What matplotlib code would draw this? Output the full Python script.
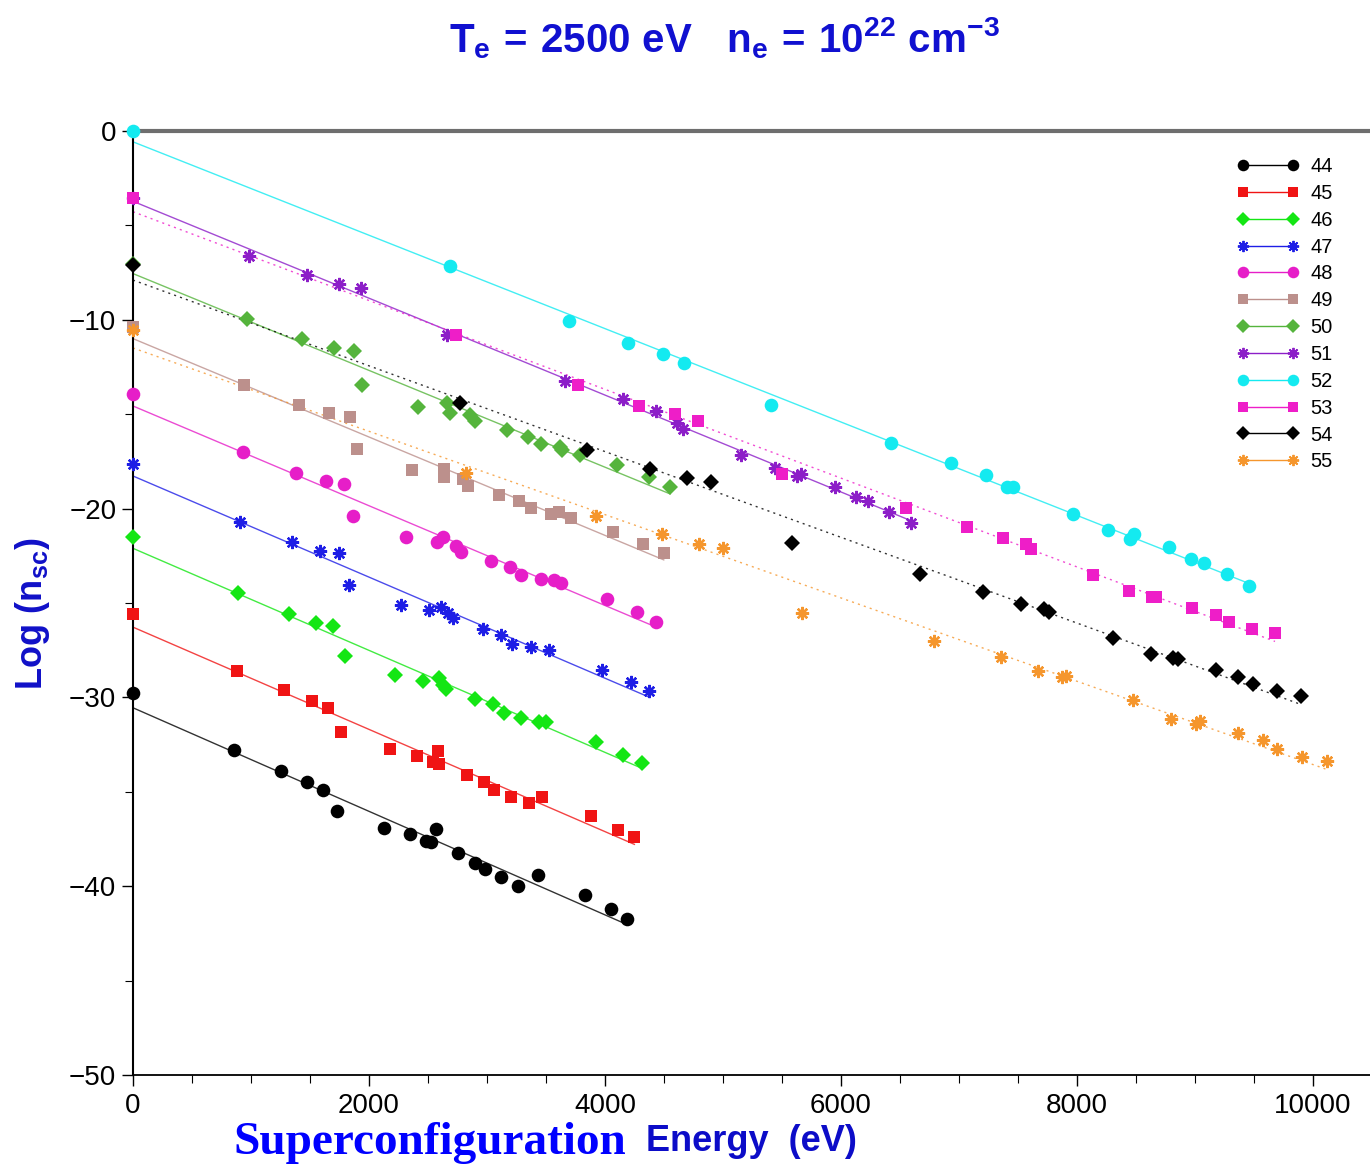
import numpy as np
import matplotlib
matplotlib.use("Agg")
import matplotlib.pyplot as plt
from matplotlib.lines import Line2D
from matplotlib.ticker import MultipleLocator

plt.rcParams['font.family'] = ['Liberation Sans', 'DejaVu Sans']
plt.rcParams['mathtext.fontset'] = 'custom'
plt.rcParams['mathtext.rm'] = 'Liberation Sans:bold'
plt.rcParams['mathtext.it'] = 'Liberation Sans:bold'
plt.rcParams['mathtext.bf'] = 'Liberation Sans:bold'
plt.rcParams['mathtext.sf'] = 'Liberation Sans:bold'

# ---------------- data (superconfiguration energy in eV, Log n_sc) ----------------
labels = ['44', '45', '46', '47', '48', '49', '50', '51', '52', '53', '54', '55']

x44 = [0, 856, 1254, 1475, 1610, 1729, 2127, 2347, 2483, 2525, 2568, 2754, 2898, 2983, 3119, 3263, 3432, 3831, 4051, 4186]
y44 = [-29.78, -32.79, -33.88, -34.50, -34.92, -36.00, -36.93, -37.24, -37.61, -37.64, -36.99, -38.26, -38.76, -39.09, -39.53, -39.97, -39.42, -40.47, -41.22, -41.72]

x45 = [0, 881, 1283, 1513, 1653, 1760, 2178, 2407, 2583, 2545, 2593, 2828, 2972, 3057, 3203, 3352, 3465, 3879, 4108, 4249]
y45 = [-25.60, -28.59, -29.61, -30.19, -30.56, -31.82, -32.75, -33.09, -32.82, -33.41, -33.53, -34.11, -34.50, -34.90, -35.26, -35.61, -35.26, -36.28, -37.04, -37.41]

x46 = [0, 890, 1322, 1551, 1698, 1797, 2220, 2460, 2593, 2624, 2655, 2897, 3047, 3142, 3286, 3440, 3503, 3927, 4155, 4313]
y46 = [-21.49, -24.49, -25.58, -26.04, -26.20, -27.81, -28.81, -29.13, -28.99, -29.34, -29.57, -30.10, -30.37, -30.84, -31.07, -31.29, -31.29, -32.35, -33.07, -33.46]

x47 = [0, 910, 1344, 1586, 1746, 1831, 2270, 2512, 2606, 2669, 2716, 2962, 3115, 3212, 3370, 3528, 3974, 4218, 4376]
y47 = [-17.65, -20.69, -21.77, -22.25, -22.37, -24.05, -25.11, -25.37, -25.20, -25.55, -25.81, -26.39, -26.69, -27.17, -27.31, -27.49, -28.55, -29.20, -29.64]

x48 = [0, 935, 1382, 1636, 1792, 1864, 2316, 2576, 2624, 2740, 2781, 3038, 3199, 3292, 3455, 3565, 3628, 4020, 4271, 4435]
y48 = [-13.95, -17.02, -18.10, -18.52, -18.70, -20.39, -21.49, -21.75, -21.52, -21.96, -22.28, -22.76, -23.09, -23.50, -23.74, -23.78, -23.96, -24.80, -25.46, -25.99]

x49 = [0, 941, 1406, 1664, 1839, 1902, 2366, 2633, 2633, 2797, 2838, 3104, 3274, 3370, 3543, 3613, 3713, 4068, 4325, 4498]
y49 = [-10.37, -13.45, -14.51, -14.95, -15.15, -16.86, -17.96, -17.92, -18.34, -18.45, -18.79, -19.28, -19.60, -19.98, -20.29, -20.16, -20.48, -21.22, -21.88, -22.37]

x50 = [0, 964, 1435, 1706, 1875, 1938, 2418, 2658, 2686, 2856, 2898, 3167, 3345, 3455, 3619, 3633, 3788, 4104, 4375, 4551]
y50 = [-7.06, -9.97, -11.03, -11.48, -11.64, -13.47, -14.60, -14.39, -14.92, -15.04, -15.34, -15.85, -16.19, -16.60, -16.75, -16.90, -17.16, -17.69, -18.31, -18.87]

x51 = [0, 983, 1472, 1746, 1929, 2663, 3661, 4150, 4432, 4613, 4658, 5153, 5441, 5630, 5659, 5949, 6125, 6229, 6409, 6593]
y51 = [-3.55, -6.60, -7.63, -8.10, -8.30, -10.81, -13.23, -14.21, -14.83, -15.45, -15.78, -17.16, -17.87, -18.27, -18.19, -18.84, -19.39, -19.58, -20.18, -20.75]

x52 = [0, 2686, 3697, 4197, 4494, 4669, 5404, 6424, 6935, 7229, 7409, 7460, 7966, 8265, 8449, 8487, 8782, 8966, 9078, 9269, 9455]
y52 = [0.0, -7.15, -10.06, -11.24, -11.81, -12.27, -14.51, -16.54, -17.58, -18.24, -18.86, -18.86, -20.28, -21.13, -21.61, -21.37, -22.02, -22.69, -22.87, -23.47, -24.08]

x53 = [0, 2737, 3774, 4291, 4593, 4785, 5497, 6551, 7065, 7370, 7565, 7606, 8133, 8439, 8633, 8669, 8975, 9174, 9286, 9483, 9678]
y53 = [-3.55, -10.81, -13.45, -14.55, -14.99, -15.34, -18.19, -19.96, -20.97, -21.56, -21.88, -22.16, -23.53, -24.36, -24.67, -24.66, -25.24, -25.62, -25.99, -26.36, -26.61]

x54 = [0, 2771, 3850, 4381, 4697, 4895, 5587, 6669, 7206, 7524, 7718, 7761, 8305, 8624, 8816, 8853, 9175, 9367, 9494, 9692, 9898]
y54 = [-7.10, -14.42, -16.90, -17.92, -18.40, -18.61, -21.84, -23.44, -24.44, -25.04, -25.33, -25.50, -26.83, -27.70, -27.93, -27.98, -28.55, -28.94, -29.31, -29.66, -29.91]

x55 = [0, 2826, 3924, 4481, 4799, 4997, 5672, 6788, 7352, 7669, 7875, 7907, 8475, 8797, 9008, 9042, 9362, 9574, 9692, 9904, 10116]
y55 = [-10.54, -18.09, -20.39, -21.35, -21.89, -22.10, -25.52, -26.99, -27.84, -28.59, -28.94, -28.88, -30.14, -31.16, -31.42, -31.25, -31.90, -32.26, -32.75, -33.14, -33.35]

xs = [x44, x45, x46, x47, x48, x49, x50, x51, x52, x53, x54, x55]
ys = [y44, y45, y46, y47, y48, y49, y50, y51, y52, y53, y54, y55]

# ---------------- styles ----------------
colors = ['#000000', '#f01414', '#14e614', '#1e1ee6', '#e61ec8', '#bc908c',
          '#55b43c', '#8c1ec8', '#14eaf0', '#ee1ec8', '#000000', '#f5962d']
markers = ['o', 's', 'D', (8, 2, 0), 'o', 's', 'D', (8, 2, 0), 'o', 's', 'D', (8, 2, 0)]
msizes = {'o': 9.8, 's': 8.8, 'D': 7.8}
fit_styles = ['-'] * 9 + [(0, (1.5, 3))] * 3

fig = plt.figure(figsize=(13.70, 11.64), dpi=100)
ax = fig.add_axes([133 / 1370, 1 - 1075 / 1164, 1 - 133 / 1370, (1075 - 131) / 1164])

handles = []
for x, y, c, m, ls, lab in zip(xs, ys, colors, markers, fit_styles, labels):
    x = np.asarray(x, float)
    y = np.asarray(y, float)
    k, b = np.polyfit(x, y, 1)
    xf = np.array([0.0, x.max()])
    ax.plot(xf, k * xf + b, ls=ls, color=c, lw=1.0, alpha=0.8, zorder=2)
    ms = msizes.get(m, 9.5) if isinstance(m, str) else 9.5
    mew = 1.7 if not isinstance(m, str) else 0
    ax.plot(x, y, ls='none', marker=m, ms=ms, color=c, mec=c, mew=mew,
            zorder=3, clip_on=False)
    handles.append(Line2D([], [], color=c, lw=1.0, alpha=1, marker=m, ms=ms * 0.85,
                          mec=c, mew=mew * 0.8, label=lab))

ax.set_xlim(0, 10483)
ax.set_ylim(-50, 0)
ax.xaxis.set_major_locator(MultipleLocator(2000))
ax.xaxis.set_minor_locator(MultipleLocator(500))
ax.yaxis.set_major_locator(MultipleLocator(10))
ax.yaxis.set_minor_locator(MultipleLocator(5))
ax.tick_params(axis='both', which='major', direction='out', length=8, width=1,
               labelsize=20, colors='black', pad=5)
ax.tick_params(axis='both', which='minor', direction='out', length=6, width=0.8)
ax.tick_params(axis='y', which='major', pad=4)

ax.spines['right'].set_visible(False)
ax.spines['top'].set_color('#6e6e6e')
ax.spines['top'].set_linewidth(3)
ax.spines['left'].set_linewidth(1.5)
ax.spines['bottom'].set_linewidth(1.3)

leg = fig.legend(handles=handles, loc='upper left',
                 bbox_to_anchor=(1237 / 1370, 1 - 157 / 1164),
                 frameon=False, numpoints=2, handlelength=3.1, handletextpad=0.55,
                 labelspacing=0.39, fontsize=14.5, borderpad=0, borderaxespad=0)
for lh in leg.get_lines():
    lh.set_alpha(1)
for t in leg.get_texts():
    t.set_color('black')

# title
fig.text(724 / 1370, 1 - 52 / 1164,
         r'$\mathrm{T_e\,=\,2500\ eV\quad n_e\,=\,10^{22}\ cm^{-3}}$',
         ha='center', va='baseline', fontsize=29, color='#1010d0')

# y label
fig.text(33 / 1370, 1 - 614 / 1164, r'$\mathrm{Log\ (n_{sc})}$', rotation=90,
         ha='center', va='center', fontsize=26, color='#1010c8')

# x label (two styles)
fig.text(233 / 1370, 1 - 1154 / 1164, 'Superconfiguration',
         family=['Liberation Serif', 'DejaVu Serif'], fontweight='bold',
         fontsize=34, color='#0000ff', ha='left', va='baseline')
fig.text(646 / 1370, 1 - 1151 / 1164, 'Energy  (eV)',
         fontweight='bold', fontsize=26, color='#0c0cc8', ha='left', va='baseline')

fig.savefig('out.png', dpi=100)
